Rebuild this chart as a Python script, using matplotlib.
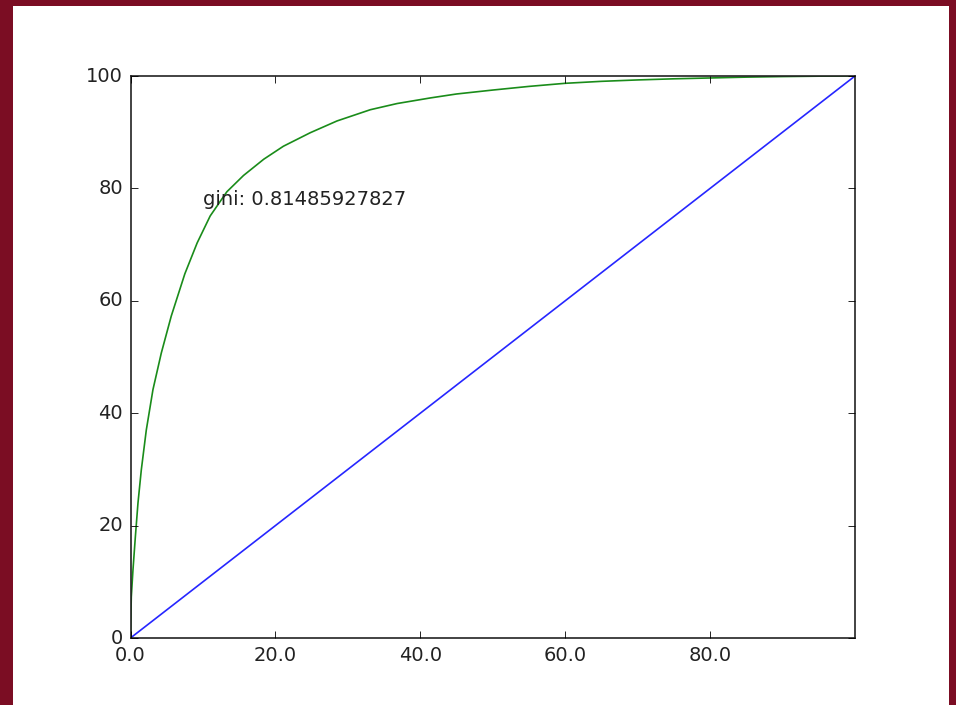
import matplotlib
matplotlib.use("Agg")
import matplotlib.pyplot as plt
from matplotlib.patches import Rectangle

# cumulative share (green curve)
pct_population = [0, 0.11, 0.34, 0.67, 1.03, 1.49, 2.18, 3.1, 4.25, 5.63, 7.5, 9.2,
                  11.0, 13.3, 15.6, 18.4, 21.1, 24.8, 28.5, 33.1, 36.8, 41.4, 45,
                  50, 55, 60, 65, 70, 75, 80, 85, 90, 95, 100]
pct_share = [0, 7.3, 12.1, 18.0, 24.0, 29.9, 37.0, 44.2, 50.7, 57.3, 64.8, 70.3,
             75.1, 79.4, 82.3, 85.2, 87.5, 89.9, 92.0, 94.0, 95.1, 96.1, 96.8,
             97.5, 98.15, 98.7, 99.05, 99.3, 99.5, 99.65, 99.8, 99.9, 99.97, 100]

# line of equality
equal_x = [0, 100]
equal_y = [0, 100]

gini = "0.81485927827"
xtick_vals = [0, 20, 40, 60, 80]
xtick_labels = ["0.0", "20.0", "40.0", "60.0", "80.0"]
ytick_vals = [0, 20, 40, 60, 80, 100]

plt.style.use("classic")
W, H = 956, 705
fig = plt.figure(figsize=(W / 100, H / 100), dpi=100, facecolor="#7b0d23")

# white figure area inside the dark red frame
fig.patches.append(Rectangle((13 / W, 0), (949 - 13) / W, 1 - 6 / H,
                             transform=fig.transFigure, facecolor="white",
                             edgecolor="none", zorder=-10))

ax = fig.add_axes([130.5 / W, (H - 638) / H, (855 - 130.5) / W, (638 - 76) / H])
ax.set_facecolor("white")

ax.plot(pct_population, pct_share, color=(0.1, 0.55, 0.1), lw=1.2,
        solid_joinstyle="round")
ax.plot(equal_x, equal_y, color=(0.15, 0.15, 1), lw=1.2)
ax.text(10, 77, "gini: " + gini, fontsize=14, color="#222222")

ax.set_xlim(0, 100)
ax.set_ylim(0, 100)
ax.set_xticks(xtick_vals)
ax.set_xticklabels(xtick_labels)
ax.set_yticks(ytick_vals)
ax.tick_params(labelsize=14, labelcolor="#222222", direction="in", length=4.7,
               width=0.6, pad=5.5, top=True, right=True)
for s in ax.spines.values():
    s.set_linewidth(1.2)
    s.set_edgecolor("#222222")

fig.savefig("out.png", dpi=100, facecolor=fig.get_facecolor())
